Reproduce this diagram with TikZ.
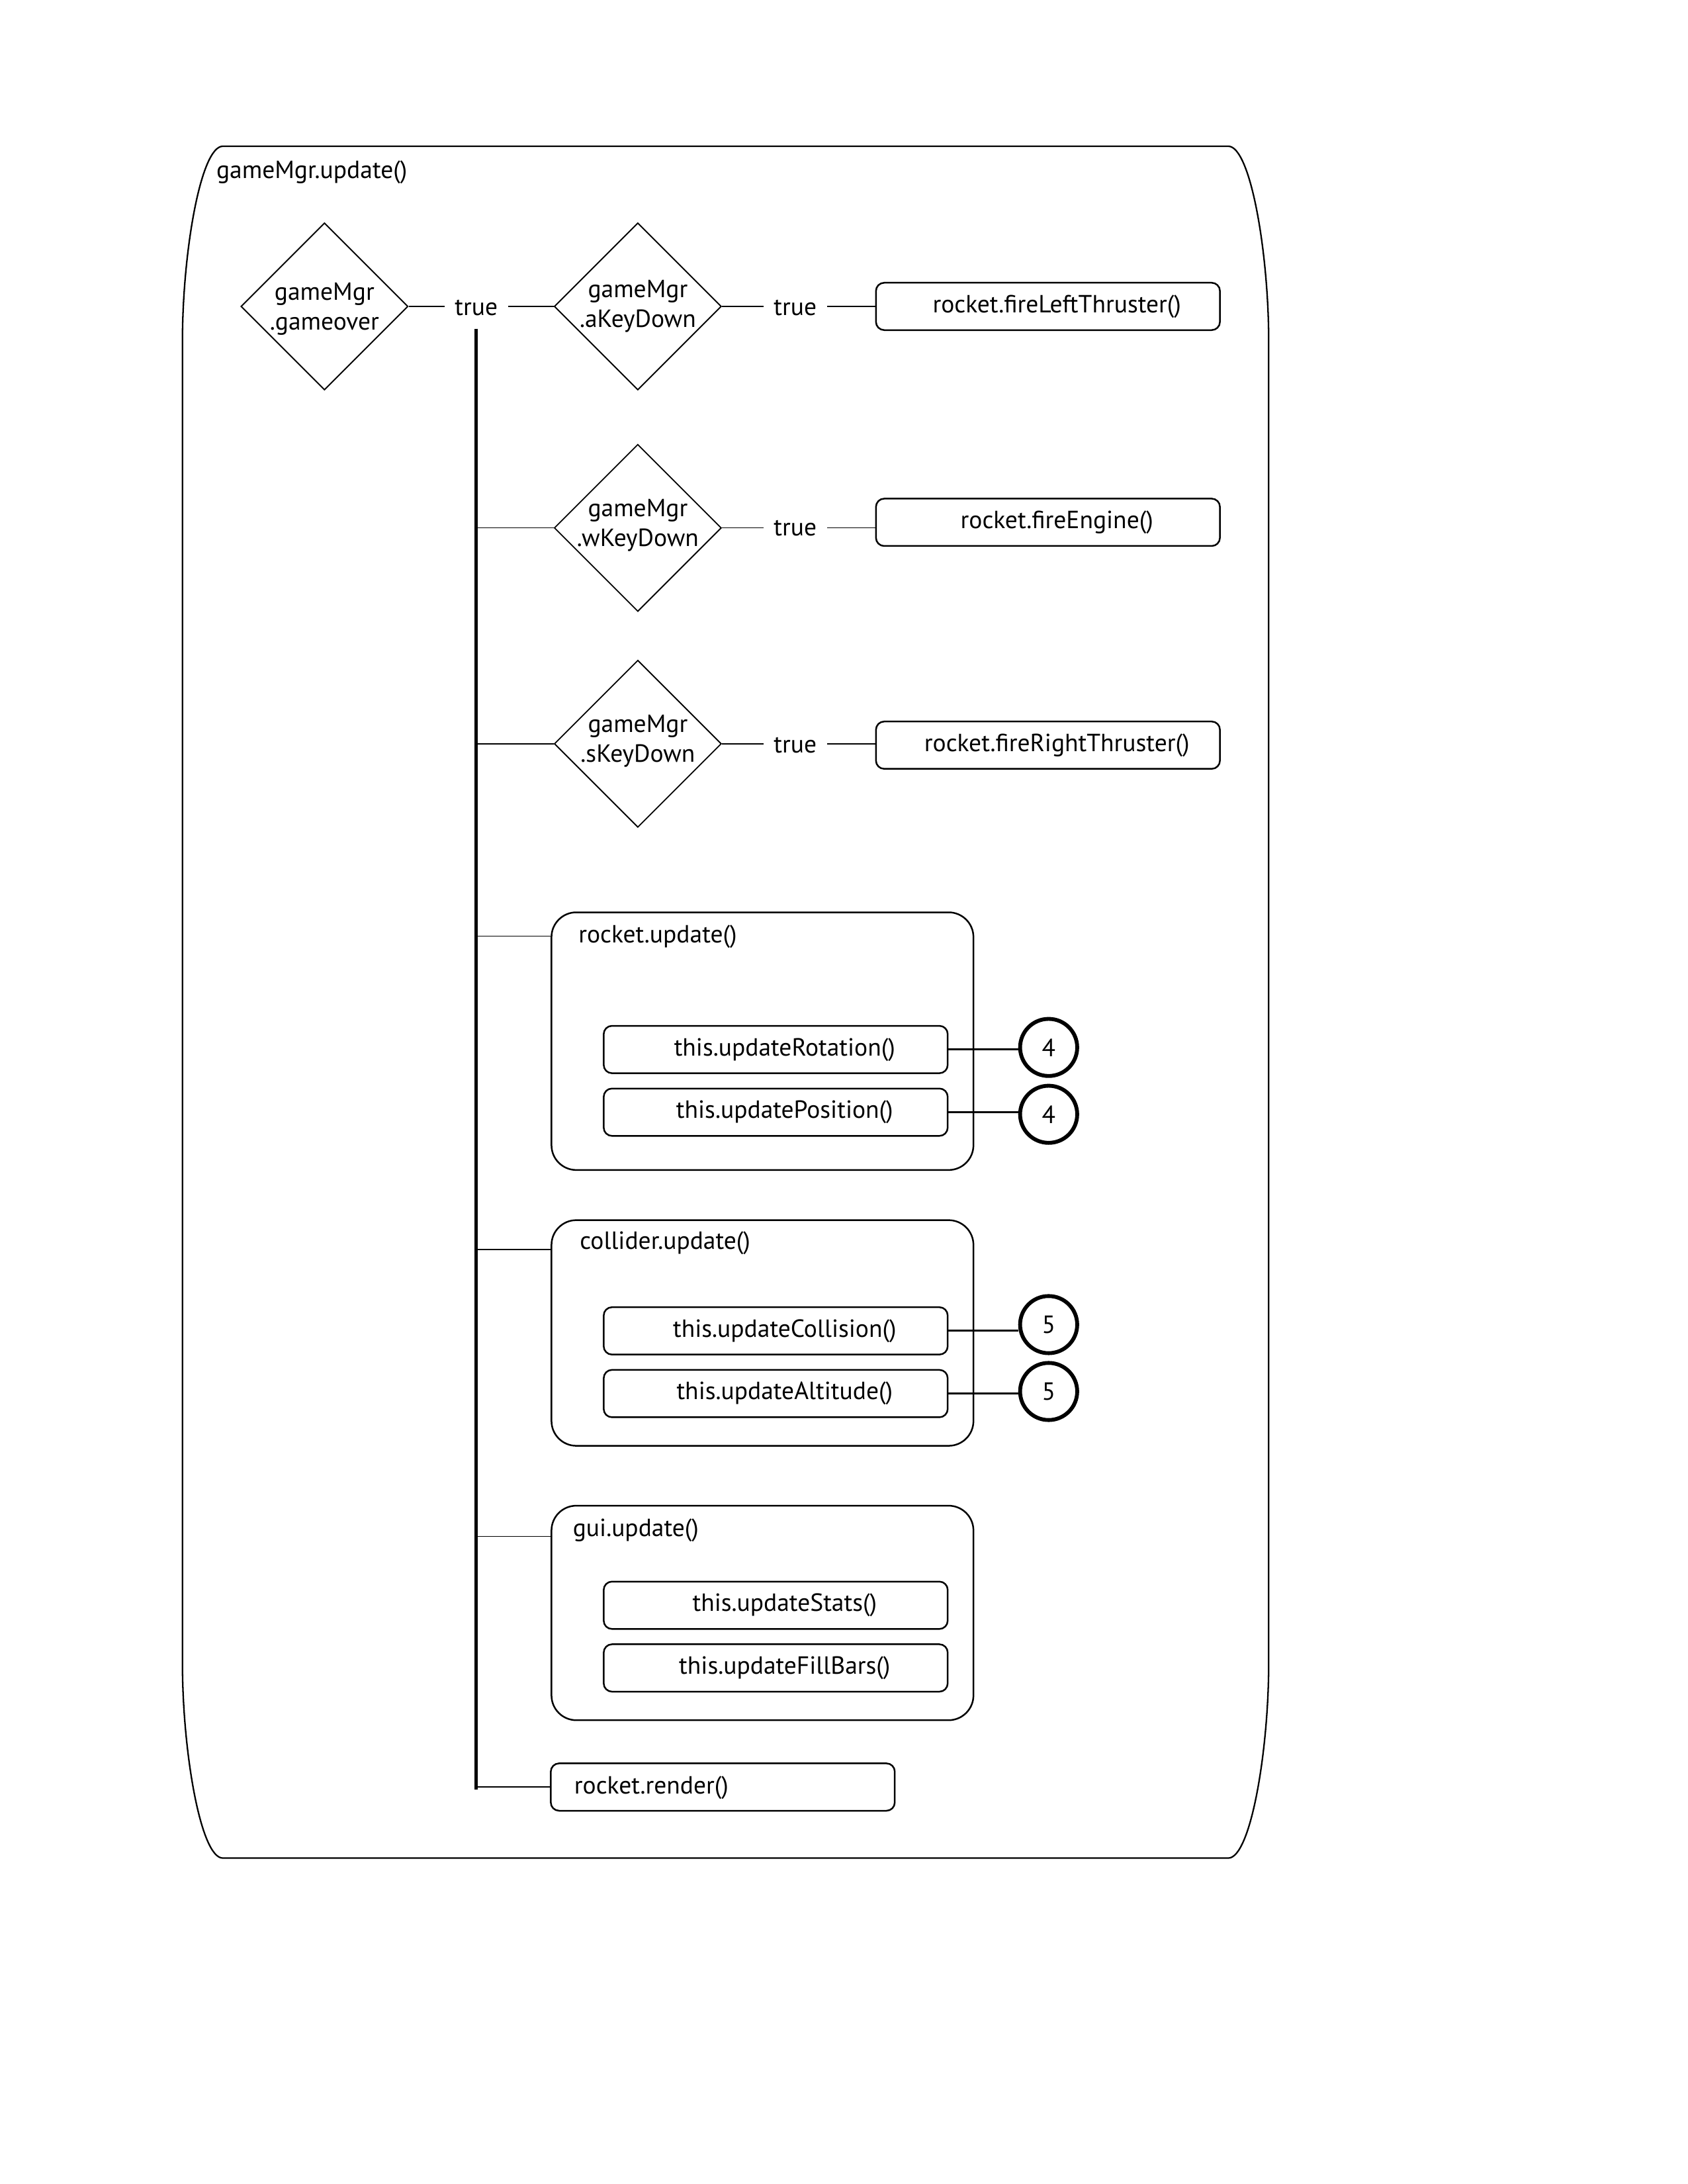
\documentclass[tikz,border=0pt]{standalone}
\usepackage{fontspec}
\setmainfont{PT Sans}
\usetikzlibrary{shapes.geometric}
\def\u{0.50495pt}
\tikzset{
  framepath/.style={line width=0.55pt},
  dia/.style={diamond, draw, line width=0.45pt, minimum width=120*\u, minimum height=120*\u, inner sep=0pt, aspect=1},
  lbl/.style={inner sep=0pt, align=center},
  truelbl/.style={inner sep=3.6pt, yshift=-0.5pt},
  box/.style={draw, rectangle, rounded corners=3pt, line width=0.6pt, minimum width=247*\u, minimum height=34*\u, inner sep=0pt},
  shbox/.style={box, execute at begin node={\hspace*{6.5pt}}},
  cont/.style={draw, rectangle, rounded corners=9pt, line width=0.6pt, minimum width=303*\u, inner sep=0pt},
  titl/.style={inner sep=0pt, anchor=west, yshift=-0.8pt},
  circ/.style={circle, draw, line width=1.4pt, minimum size=41*\u, inner sep=0pt},
  thin/.style={line width=0.35pt},
  mid/.style={line width=0.7pt},
  bar/.style={line width=1.2pt}
}
\begin{document}
\begin{tikzpicture}[x=0.50495pt, y=-0.50495pt, font=\fontsize{9}{10.8}\selectfont]
\useasboundingbox (0,0) rectangle (1212,1568);
% outer frame
\draw[framepath] (160,105) -- (882,105)
  .. controls (898,105) and (911,182) .. (911,245)
  -- (911,1194)
  .. controls (911,1257) and (898,1334) .. (882,1334)
  -- (160,1334)
  .. controls (144,1334) and (131,1257) .. (131,1194)
  -- (131,245)
  .. controls (131,182) and (144,105) .. (160,105);
\node[titl] (title) at (155,122) {gameMgr.update()};

% diamonds
\node[dia] (d1) at (233,220) {};
\node[lbl, yshift=-1pt] (d1t) at (d1) {gameMgr\\.gameover};
\node[dia] (d2) at (458,220) {};
\node[lbl] (d2t) at (d2) {gameMgr\\.aKeyDown};
\node[dia] (d3) at (458,379) {};
\node[lbl, yshift=1pt] (d3t) at (d3) {gameMgr\\.wKeyDown};
\node[dia] (d4) at (458,534) {};
\node[lbl, yshift=1pt] (d4t) at (d4) {gameMgr\\.sKeyDown};

% true labels
\node[truelbl] (t1) at (342,220) {true};
\node[truelbl] (t2) at (571,220) {true};
\node[truelbl] (t3) at (571,378) {true};
\node[truelbl] (t4) at (571,534) {true};

% action boxes
\node[shbox] (b1) at (752.5,220) {rocket.fireLeftThruster()};
\node[shbox] (b2) at (752.5,375) {rocket.fireEngine()};
\node[shbox] (b3) at (752.5,535) {rocket.fireRightThruster()};

\draw[thin] (d1.east) -- (d1.east -| t1.west);
\draw[thin] (d2.west -| t1.east) -- (d2.west);
\draw[thin] (d2.east) -- (d2.east -| t2.west);
\draw[thin] (d2.east -| t2.east) -- (d2.east -| b1.west);
\draw[thin] (d3.east) -- (d3.east -| t3.west);
\draw[thin] (t3.east) -- (t3.east -| b2.west);
\draw[thin] (d4.east) -- (d4.east -| t4.west);
\draw[thin] (d4.east -| t4.east) -- (d4.east -| b3.west);

% vertical bar
\coordinate (v0) at (342,236);
\coordinate (v1) at (342,1285);
\draw[bar] (v0) -- (v1);

% containers
\node[cont, minimum height=185*\u] (ru) at (547.5,747.5) {};
\node[titl] (rut) at (415,671) {rocket.update()};
\node[shbox] (r1) at (557,753.5) {this.updateRotation()};
\node[shbox] (r2) at (557,798.5) {this.updatePosition()};
\node[circ] (c1) at (753,752) {4};
\node[circ] (c2) at (753,800) {4};

\node[cont, minimum height=162*\u] (cu) at (547.5,957) {};
\node[titl] (cut) at (416,891) {collider.update()};
\node[shbox] (k1) at (557,955.5) {this.updateCollision()};
\node[shbox] (k2) at (557,1000.5) {this.updateAltitude()};
\node[circ] (c3) at (753,951) {5};
\node[circ] (c4) at (753,999) {5};

\node[cont, minimum height=154*\u] (gu) at (547.5,1158) {};
\node[titl] (gut) at (411,1097) {gui.update()};
\node[shbox] (g1) at (557,1152.5) {this.updateStats()};
\node[shbox] (g2) at (557,1197.5) {this.updateFillBars()};

\node[box] (rr) at (519,1283) {};
\node[titl] (rrt) at (412,1282) {rocket.render()};

% branches from bar
\draw[thin] (v0 |- d3) -- (d3.west);
\draw[thin] (v0 |- d4) -- (d4.west);
\draw[thin] (342,672) -- (ru.west |- 0,672);
\draw[thin] (342,897) -- (cu.west |- 0,897);
\draw[thin] (342,1103) -- (gu.west |- 0,1103);
\draw[thin] (342,1283) -- (rr.west);

% circle links
\draw[mid] (r1.east) -- (c1.west |- r1.east);
\draw[mid] (r2.east) -- (c2.west |- r2.east);
\draw[mid] (k1.east) -- (c3.west |- k1.east);
\draw[mid] (k2.east) -- (c4.west |- k2.east);
\end{tikzpicture}
\end{document}
